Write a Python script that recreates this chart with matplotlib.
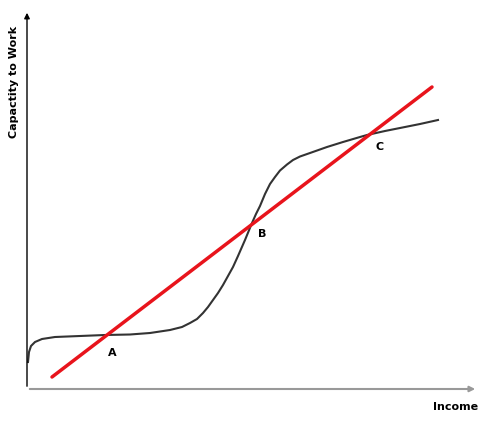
import numpy as np
import matplotlib.pyplot as plt

# curve (income, capacity), origin at the axes corner
income = [1, 2, 4, 8, 15, 28, 53, 78, 103, 123, 143, 155, 163, 170, 176, 181,
          186, 191, 196, 201, 206, 211, 218, 225, 229, 233, 238, 243, 248, 253,
          260, 266, 273, 283, 300, 316, 333, 340, 358, 373, 393, 411]
capacity = [27, 37, 43, 47, 50, 52, 53, 54, 54.5, 56, 59, 62, 66, 70, 76, 82,
            89, 96, 104, 113, 122, 133, 149, 166, 175, 183, 195, 205, 212, 218.5,
            224.5, 229, 232.5, 236, 242, 247, 252, 254, 258, 261, 265, 269]

# straight line
line_x = [25, 405]
line_y = [12, 302]

points = ['A', 'B', 'C']
point_x = [85, 235, 353]
point_y = [36, 155, 242]

fig = plt.figure(figsize=(4.95, 4.21), dpi=100)
ax = fig.add_axes([0, 0, 1, 1])
ax.set_xlim(-27, 468)
ax.set_ylim(-32, 389)
ax.axis('off')

ax.annotate('', xy=(0, 379), xytext=(0, 0),
            arrowprops=dict(arrowstyle='-|>', color='black', lw=1, mutation_scale=8))
ax.annotate('', xy=(451, 0), xytext=(0, 0),
            arrowprops=dict(arrowstyle='-|>', color='#999999', lw=1.5, mutation_scale=8))

ax.plot(income, capacity, color='#333333', lw=1.5, solid_joinstyle='round')
ax.plot(line_x, line_y, color='#e8141c', lw=2.5, solid_capstyle='round')

for p, x, y in zip(points, point_x, point_y):
    ax.text(x, y, p, fontsize=8, fontweight='bold', ha='center', va='center')

ax.text(-13, 307, 'Capactity to Work', rotation=90, fontsize=8, fontweight='bold',
        ha='center', va='center')
ax.text(429, -18, 'Income', fontsize=8, fontweight='bold', ha='center', va='center')

fig.savefig('out.png', dpi=100)
